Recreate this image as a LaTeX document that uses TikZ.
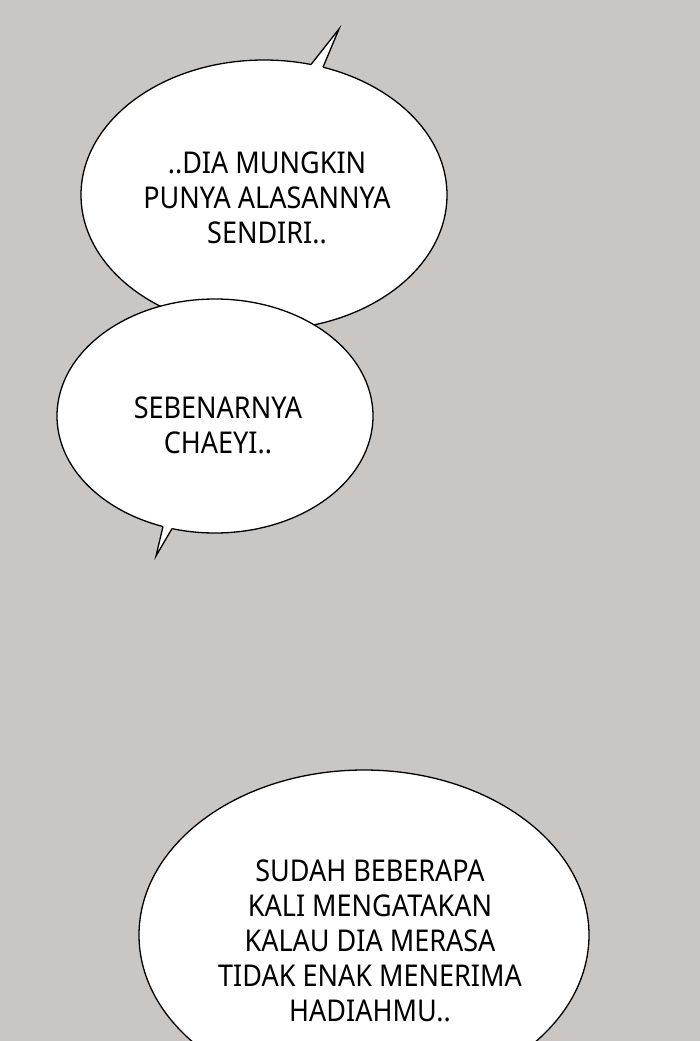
\documentclass[tikz,border=0pt]{standalone}
\usepackage{fontspec}
\setmainfont{Noto Sans}[FakeStretch=0.9]
\definecolor{bg}{RGB}{202,198,196}
\begin{document}
\begin{tikzpicture}[x=1pt,y=-1pt,
  bubble/.style={fill=white,draw=black,line width=1.3pt},
  tailedge/.style={draw=black,line width=1.3pt,line join=miter},
  txt/.style={align=center,font=\fontsize{30}{35}\selectfont,inner sep=0pt}]
\fill[bg] (0,0) rectangle (700,1041);
\useasboundingbox (0,0) rectangle (700,1041);
% bubble 1
\draw[bubble] (264,195) ellipse[x radius=183,y radius=135];
\coordinate (b1a) at (311,64.5);
\coordinate (b1t) at (339,29);
\coordinate (b1b) at (323,67.2);
\fill[white] (b1a) -- (b1t) -- (b1b) -- (323,72) -- (311,70) -- cycle;
\draw[tailedge] (b1a) -- (b1t) -- (b1b);
\node[txt] (t1) at (267,198) {..DIA MUNGKIN\\PUNYA ALASANNYA\\SENDIRI..};
% bubble 2
\draw[bubble] (215,416) ellipse[x radius=158,y radius=117];
\coordinate (b2a) at (163,526.5);
\coordinate (b2t) at (156,556);
\coordinate (b2b) at (172,528.6);
\fill[white] (b2a) -- (b2t) -- (b2b) -- (172,522) -- (163,520) -- cycle;
\draw[tailedge] (b2a) -- (b2t) -- (b2b);
\node[txt] (t2) at (218,425) {SEBENARNYA\\CHAEYI..};
% bubble 3
\draw[bubble] (364,935) ellipse[x radius=225,y radius=165];
\node[txt] (t3) at (370,941) {SUDAH BEBERAPA\\KALI MENGATAKAN\\KALAU DIA MERASA\\TIDAK ENAK MENERIMA\\HADIAHMU..};
\end{tikzpicture}
\end{document}
